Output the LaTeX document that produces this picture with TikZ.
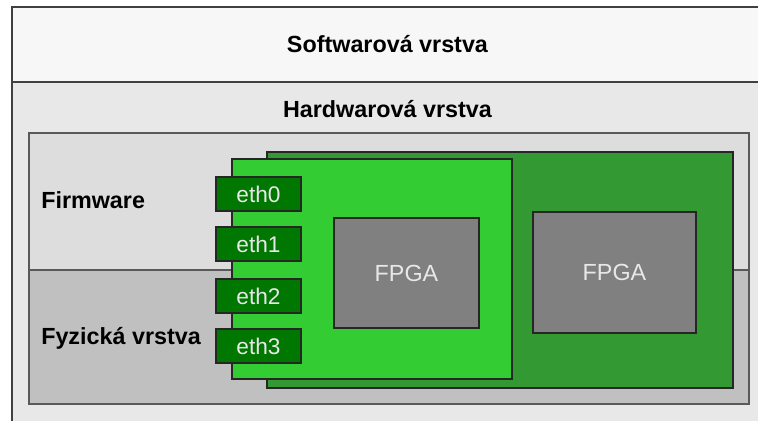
\documentclass[tikz,border=0pt]{standalone}
\usepackage{fontspec}
\setmainfont{Liberation Sans}
\definecolor{swgray}{HTML}{F7F7F7}
\definecolor{hwgray}{HTML}{E8E8E8}
\definecolor{fwgray}{HTML}{DDDDDD}
\definecolor{phygray}{HTML}{C0C0C0}
\definecolor{boardgreen}{HTML}{339933}
\definecolor{cardgreen}{HTML}{33CC33}
\definecolor{portgreen}{HTML}{007700}
\definecolor{chipgray}{HTML}{808080}
\definecolor{chiptext}{HTML}{E8E8E8}
\tikzset{
  every picture/.style={line join=miter},
  layer/.style={draw=black!75, line width=1.3pt},
  region/.style={draw=black!65, line width=1.1pt},
  pcb/.style={draw=black!85, line width=1pt},
  ethport/.style={pcb, fill=portgreen, text=chiptext, inner sep=0pt,
    minimum width=63.75pt, minimum height=25.5pt, font=\fontsize{17}{20}\selectfont},
  fpga/.style={pcb, fill=chipgray, text=chiptext, inner sep=0pt,
    font=\fontsize{17.5}{20}\selectfont},
  title/.style={inner sep=0pt, font=\bfseries\fontsize{17.5}{20}\selectfont},
}
\begin{document}
\begin{tikzpicture}[x=0.75pt,y=-0.75pt]
\useasboundingbox (0,0) rectangle (758,421);
\clip (0,0) rectangle (758,421);
\fill[white] (0,0) rectangle (758,421);
% vrstvy
\draw[layer, fill=hwgray] (12,82) rectangle (770,440);
\draw[layer, fill=swgray] (12,7) rectangle (770,82);
\node[title, anchor=base] (sw) at (387.5,52) {Softwarová vrstva};
\node[title, anchor=base] (hw) at (387.5,117) {Hardwarová vrstva};
% firmware a fyzicka vrstva
\fill[fwgray] (29,133) rectangle (749,270);
\fill[phygray] (29,270) rectangle (749,404);
\draw[region] (29,270) -- (749,270);
\draw[region] (29,133) rectangle (749,404);
\node[title, anchor=base west] (fw) at (41,208) {Firmware};
\node[title, anchor=base west] (phy) at (41,344) {Fyzická vrstva};
% desky
\draw[pcb, fill=boardgreen] (267,152) rectangle (733,388);
\draw[pcb, fill=cardgreen] (232,159) rectangle (512,379);
\foreach \i/\y in {0/194,1/244,2/296,3/346}
  \node[ethport] (eth\i) at (258.5,\y) {eth\i};
\node[fpga, minimum width=108.75pt, minimum height=82.5pt] (fpga1) at (406.5,273) {FPGA};
\node[fpga, minimum width=122.25pt, minimum height=90.75pt] (fpga2) at (614.5,272.5) {FPGA};
\end{tikzpicture}
\end{document}
